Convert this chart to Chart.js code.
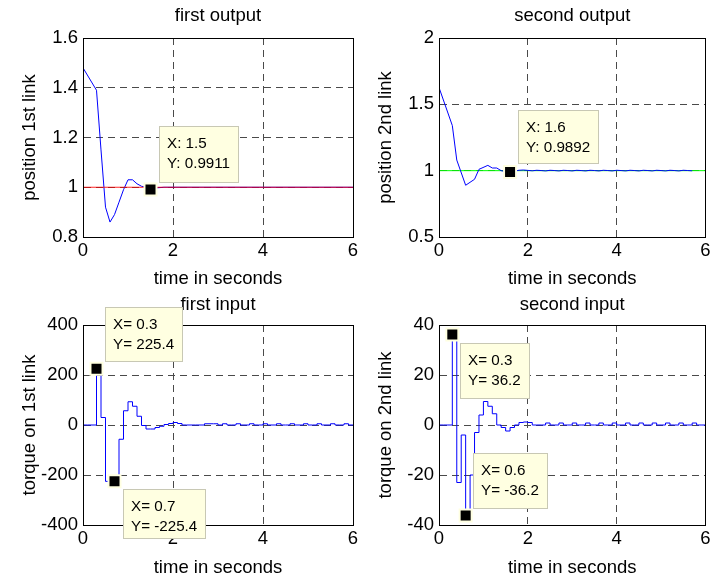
<!DOCTYPE html>
<html>
<head>
<meta charset="utf-8">
<script src="https://cdn.jsdelivr.net/npm/chart.js@4.4.0/dist/chart.umd.min.js"></script>
<style>
    body { margin: 0; background: #fff; }
    #figure { position: relative; width: 716px; height: 579px; overflow: hidden; background: #fff; }
    #figure canvas { position: absolute; }
</style>
</head>
<body>
<div id="figure">
    <canvas id="first-output" width="372" height="290" style="left:0;top:0"></canvas>
    <canvas id="second-output" width="360" height="290" style="left:356px;top:0"></canvas>
    <canvas id="first-input" width="372" height="289" style="left:0;top:290px"></canvas>
    <canvas id="second-input" width="360" height="289" style="left:356px;top:290px"></canvas>
</div>
<script>
// ---- data ----
const timeTicks = [0, 2, 4, 6];
const out1Ticks = [0.8, 1, 1.2, 1.4, 1.6];
const out2Ticks = [0.5, 1, 1.5, 2];
const in1Ticks = [-400, -200, 0, 200, 400];
const in2Ticks = [-40, -20, 0, 20, 40];

// first output (position of link 1) and its reference
const out1Time = [0, 0.3, 0.4, 0.5, 0.6, 0.7, 0.8, 0.9, 1.0, 1.1, 1.2, 1.3, 1.4, 1.5, 1.6, 1.8, 6];
const out1Pos = [1.48, 1.39, 1.15, 0.92, 0.86, 0.89, 0.94, 0.99, 1.03, 1.03, 1.014, 1.004, 1.0, 0.9911, 0.997, 1.0, 1.0];
const ref1Time = [0, 6];
const ref1Pos = [1, 1];

// second output (position of link 2) and its reference
const out2Time = [0, 0.3, 0.4, 0.6, 0.8, 0.9, 1.1, 1.2, 1.3, 1.4, 1.5, 1.6, 1.7,
    1.8, 1.9, 2.0, 2.1, 2.2, 2.3, 2.4, 2.5, 2.6, 2.7, 2.8, 2.9, 3.0, 3.1, 3.2, 3.3, 3.4, 3.5, 3.6, 3.7,
    3.8, 3.9, 4.0, 4.1, 4.2, 4.3, 4.4, 4.5, 4.6, 4.7, 4.8, 4.9, 5.0, 5.1, 5.2, 5.3, 5.4, 5.5, 5.6, 5.7];
const out2Pos = [1.627, 1.34, 1.08, 0.89, 0.935, 1.01, 1.04, 1.02, 1.02, 1.0, 0.993, 0.9892, 0.997,
    1.003, 1.005, 1.002, 0.999, 1.003, 1.001, 0.998, 1.003, 1.001, 0.998, 1.003, 1.001, 0.998, 1.003, 1.001, 0.998, 1.003, 1.001, 0.998, 1.003,
    1.001, 0.998, 1.003, 1.001, 0.998, 1.003, 1.001, 0.998, 1.003, 1.001, 0.998, 1.003, 1.001, 0.998, 1.003, 1.001, 0.998, 1.003, 1.001, 0.999];
const ref2Time = [0, 6];
const ref2Pos = [1, 1];

// control inputs, one sample every 0.1 s from 0 to 6 s (held, drawn as stairs)
const SAMPLE_TIME = 0.1;
const torque1 = [0, 0, 0, 225.4, 30, -225.4, -225.4, -225.4, -57, 57,
    93, 75, 35, -2, -16, -16, -10, -5, 2, 6,
    10, 6, 0, 0, 0, 0, 0, 5, 5, 5,
    0, 5, 0, 0, 5, 0, 0, 5, 0, 0,
    5, 0, 0, 5, 0, 0, 5, 0, 0, 5,
    0, 0, 5, 0, 0, 5, 0, 0, 5, 0,
    0];
const torque2 = [0, 0, 0, 36.2, -23, -4, -36.2, -20, -3, 4,
    9.4, 7.5, 4.5, 0, -1, -2.4, -1, 0, 1, 1.2,
    1, 0, 0, 0, 0.8, 0, 0, 0.8, 0, 0,
    0.8, 0, 0, 0.8, 0, 0, 0.8, 0, 0, 0.8,
    0, 0, 0.8, 0, 0, 0.8, 0, 0, 0.8, 0,
    0, 0.8, 0, 0, 0.8, 0, 0, 0.8, 0, 0,
    0];

// data tips
const tip1X = [1.5], tip1Y = [0.9911];
const tip2X = [1.6], tip2Y = [0.9892];
const tip3X = [0.3, 0.7], tip3Y = [225.4, -225.4];
const tip4X = [0.3, 0.6], tip4Y = [36.2, -36.2];

// ---- look ----
const FONT = "'Liberation Sans', Arial, sans-serif";
const FONT_SIZE = 18.5;
const TIP_FONT_SIZE = 15.2;
const GRID_COLOR = '#4a4a4a';

Chart.defaults.font.family = FONT;
Chart.defaults.color = '#000';

// where each tip box sits relative to its marker
const tip1Boxes = [{ dx: 8, dy: -63, h: 56 }];
const tip2Boxes = [{ dx: 8, dy: -62, h: 53 }];
const tip3Boxes = [{ dx: 8, dy: -62, h: 54 }, { dx: 8, dy: 8, h: 49 }];
const tip4Boxes = [{ dx: 8, dy: 8, h: 55 }, { dx: 7, dy: -63, h: 55 }];

function toPoints(xs, ys) {
    return xs.map((x, i) => ({ x, y: ys[i] }));
}

function sampledPoints(values) {
    return values.map((v, k) => ({ x: +(k * SAMPLE_TIME).toFixed(1), y: v }));
}

function lineDataset(points, color, order, stepped) {
    return {
        data: points,
        borderColor: color,
        borderWidth: 1,
        pointRadius: 0,
        tension: 0,
        fill: false,
        stepped: stepped || false,
        order
    };
}

function markerDataset(xs, ys) {
    return {
        data: toPoints(xs, ys),
        showLine: false,
        pointStyle: 'rect',
        pointRadius: 8.5,
        pointBackgroundColor: '#000',
        pointBorderColor: '#ffffe1',
        pointBorderWidth: 2,
        clip: false,
        order: 0
    };
}

function buildTips(xs, ys, boxes, sep) {
    return xs.map((x, i) => Object.assign({ x, y: ys[i], sep }, boxes[i]));
}

function drawDataTip(chart, tip) {
    const ctx = chart.ctx;
    const mx = chart.scales.x.getPixelForValue(tip.x);
    const my = chart.scales.y.getPixelForValue(tip.y);
    const lines = [`X${tip.sep}${tip.x}`, `Y${tip.sep}${tip.y}`];

    ctx.save();
    ctx.font = `${TIP_FONT_SIZE}px ${FONT}`;
    const w = Math.round(Math.max(...lines.map(l => ctx.measureText(l).width)) + 16);
    const x0 = Math.round(mx + tip.dx) + 0.5;
    const y0 = Math.round(my + tip.dy) + 0.5;
    ctx.fillStyle = '#ffffe1';
    ctx.strokeStyle = '#c8c8b4';
    ctx.lineWidth = 1;
    ctx.fillRect(x0, y0, w, tip.h);
    ctx.strokeRect(x0, y0, w, tip.h);
    ctx.fillStyle = '#000';
    ctx.textBaseline = 'middle';
    lines.forEach((l, i) => ctx.fillText(l, x0 + 7.5, y0 + 17.5 + i * 20));
    ctx.restore();
}

const axesBoxPlugin = {
    id: 'axesBox',
    afterDraw(chart, args, opts) {
        const ctx = chart.ctx;
        const { left, top, right, bottom } = chart.chartArea;
        const a = p => Math.round(p - 0.5) + 0.5;
        ctx.save();
        ctx.strokeStyle = '#000';
        ctx.lineWidth = 1;
        ctx.setLineDash([]);
        ctx.strokeRect(a(left), a(top), a(right) - a(left), a(bottom) - a(top));
        ctx.restore();

        (opts.tips || []).forEach(tip => drawDataTip(chart, tip));
    }
};

function axisOptions(ticks, title, extra) {
    const min = ticks[0];
    const max = ticks[ticks.length - 1];
    return Object.assign({
        type: 'linear',
        min,
        max,
        afterBuildTicks: s => { s.ticks = ticks.map(v => ({ value: v })); },
        ticks: {
            callback: v => String(v),
            font: { size: FONT_SIZE },
            color: '#000',
            maxRotation: 0,
            autoSkip: false
        },
        title: {
            display: true,
            text: title,
            color: '#000',
            font: { size: FONT_SIZE }
        },
        grid: {
            drawTicks: false,
            lineWidth: 1,
            color: c => (c.tick && (c.tick.value === min || c.tick.value === max)) ? 'rgba(0,0,0,0)' : GRID_COLOR
        },
        border: { display: true, color: '#000', width: 1, dash: [7, 5] }
    }, extra);
}

function createPlot(canvasId, cfg) {
    const x = axisOptions(timeTicks, 'time in seconds', {
        afterFit: s => { s.height = cfg.xHeight; s.paddingLeft = 0; s.paddingRight = 0; }
    });
    x.ticks.padding = 3;
    x.title.padding = { top: 0, bottom: 0 };

    const y = axisOptions(cfg.yTicks, cfg.yTitle, {
        afterFit: s => { s.width = 83; s.paddingTop = 0; s.paddingBottom = 0; }
    });
    y.ticks.padding = 5;
    y.title.padding = { top: 19, bottom: 0 };

    new Chart(document.getElementById(canvasId), {
        type: 'line',
        data: { datasets: cfg.datasets },
        options: {
            responsive: false,
            animation: false,
            devicePixelRatio: 1,
            events: [],
            layout: { padding: { left: 0, right: cfg.padRight, top: 0, bottom: 0 } },
            scales: { x, y },
            plugins: {
                legend: { display: false },
                tooltip: { enabled: false },
                title: {
                    display: true,
                    fullSize: false,
                    text: cfg.title,
                    color: '#000',
                    font: { size: FONT_SIZE, weight: 'normal' },
                    padding: cfg.titlePadding
                },
                axesBox: { tips: cfg.tips }
            }
        },
        plugins: [axesBoxPlugin]
    });
}

createPlot('first-output', {
    title: 'first output',
    yTitle: 'position 1st link',
    yTicks: out1Ticks,
    padRight: 19,
    xHeight: 53,
    titlePadding: { top: 5, bottom: 10.8 },
    datasets: [
        markerDataset(tip1X, tip1Y),
        lineDataset(toPoints(ref1Time, ref1Pos), 'rgba(255, 0, 0, 0.85)', 1),
        lineDataset(toPoints(out1Time, out1Pos), '#0000ff', 2)
    ],
    tips: buildTips(tip1X, tip1Y, tip1Boxes, ': ')
});

createPlot('second-output', {
    title: 'second output',
    yTitle: 'position 2nd link',
    yTicks: out2Ticks,
    padRight: 6,
    xHeight: 53,
    titlePadding: { top: 5, bottom: 10.8 },
    datasets: [
        markerDataset(tip2X, tip2Y),
        lineDataset(toPoints(out2Time, out2Pos), '#0000ff', 1),
        lineDataset(toPoints(ref2Time, ref2Pos), '#00ff00', 2)
    ],
    tips: buildTips(tip2X, tip2Y, tip2Boxes, ': ')
});

createPlot('first-input', {
    title: 'first input',
    yTitle: 'torque on 1st link',
    yTicks: in1Ticks,
    padRight: 19,
    xHeight: 54,
    titlePadding: { top: 4, bottom: 8.8 },
    datasets: [
        markerDataset(tip3X, tip3Y),
        lineDataset(sampledPoints(torque1), '#0000ff', 1, 'before')
    ],
    tips: buildTips(tip3X, tip3Y, tip3Boxes, '= ')
});

createPlot('second-input', {
    title: 'second input',
    yTitle: 'torque on 2nd link',
    yTicks: in2Ticks,
    padRight: 6,
    xHeight: 54,
    titlePadding: { top: 4, bottom: 8.8 },
    datasets: [
        markerDataset(tip4X, tip4Y),
        lineDataset(sampledPoints(torque2), '#0000ff', 1, 'before')
    ],
    tips: buildTips(tip4X, tip4Y, tip4Boxes, '= ')
});
</script>
</body>
</html>
